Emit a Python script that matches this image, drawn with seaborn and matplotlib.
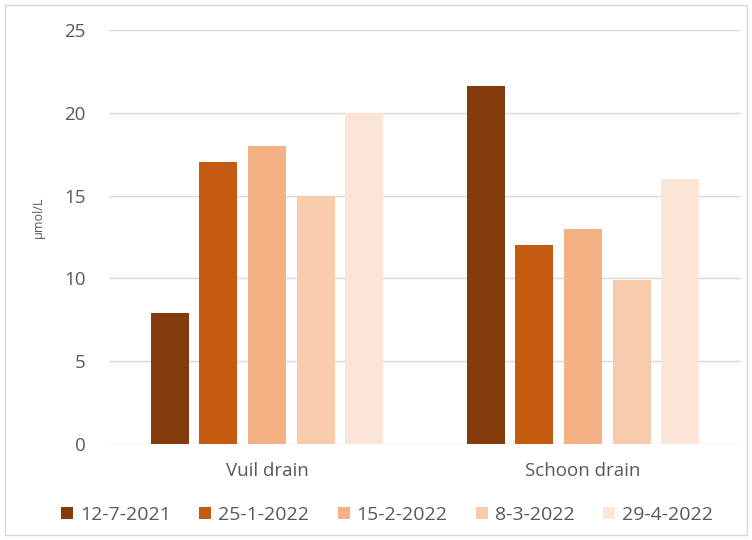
import matplotlib
matplotlib.use("Agg")
import matplotlib.pyplot as plt
import seaborn as sns
import pandas as pd
from matplotlib.patches import Rectangle

categories = ["Vuil drain", "Schoon drain"]
dates = ["12-7-2021", "25-1-2022", "15-2-2022", "8-3-2022", "29-4-2022"]
vuil = [7.9, 17.0, 18.0, 15.0, 20.0]
schoon = [21.6, 12.0, 13.0, 9.9, 16.0]
colors = ["#843C0C", "#C55A11", "#F4B183", "#F8CBAD", "#FBE5D6"]
yticks = [0, 5, 10, 15, 20, 25]

rows = []
for d, v, s in zip(dates, vuil, schoon):
    rows.append({"cat": categories[0], "date": d, "val": v})
    rows.append({"cat": categories[1], "date": d, "val": s})
df = pd.DataFrame(rows)

sns.set_theme(style="white")
plt.rcParams["font.family"] = ["Open Sans", "DejaVu Sans"]

fig = plt.figure(figsize=(7.52, 5.40), dpi=100)
ax = fig.add_axes([109/752, 1-444/540, (741-109)/752, (444-30)/540])

sns.barplot(data=df, x="cat", y="val", hue="date", order=categories,
            hue_order=dates, palette=colors, width=0.77, gap=0.22,
            saturation=1, linewidth=0, ax=ax, legend=True, zorder=3)

ax.set_ylim(0, 25)
ax.set_yticks(yticks)
ax.set_xlim(-0.5, 1.5)
ax.grid(axis="y", color="#D9D9D9", linewidth=1, zorder=0)
ax.set_axisbelow(True)
for s in ax.spines.values():
    s.set_visible(False)
ax.tick_params(axis="both", length=0, colors="#595959", labelsize=13.5)
ax.tick_params(axis="y", pad=17)
ax.tick_params(axis="x", pad=13)
ax.set_xlabel("")
ax.set_ylabel("µmol/L", color="#595959", fontsize=9)
ax.yaxis.set_label_coords(-64/632, (444-217)/414)

handles, labels = ax.get_legend_handles_labels()
ax.legend(handles, labels, loc="center",
          bbox_to_anchor=(387/752, 1-515/540), bbox_transform=fig.transFigure,
          ncol=5, frameon=False, fontsize=14, labelcolor="#595959",
          handlelength=0.62, handleheight=0.62, handletextpad=0.36,
          columnspacing=1.45)

fig.patches.append(Rectangle((5/752, 5/540), 742/752, 530/540,
                             transform=fig.transFigure, fill=False,
                             edgecolor="#D9D9D9", linewidth=1))

fig.savefig("out.png", dpi=100)
